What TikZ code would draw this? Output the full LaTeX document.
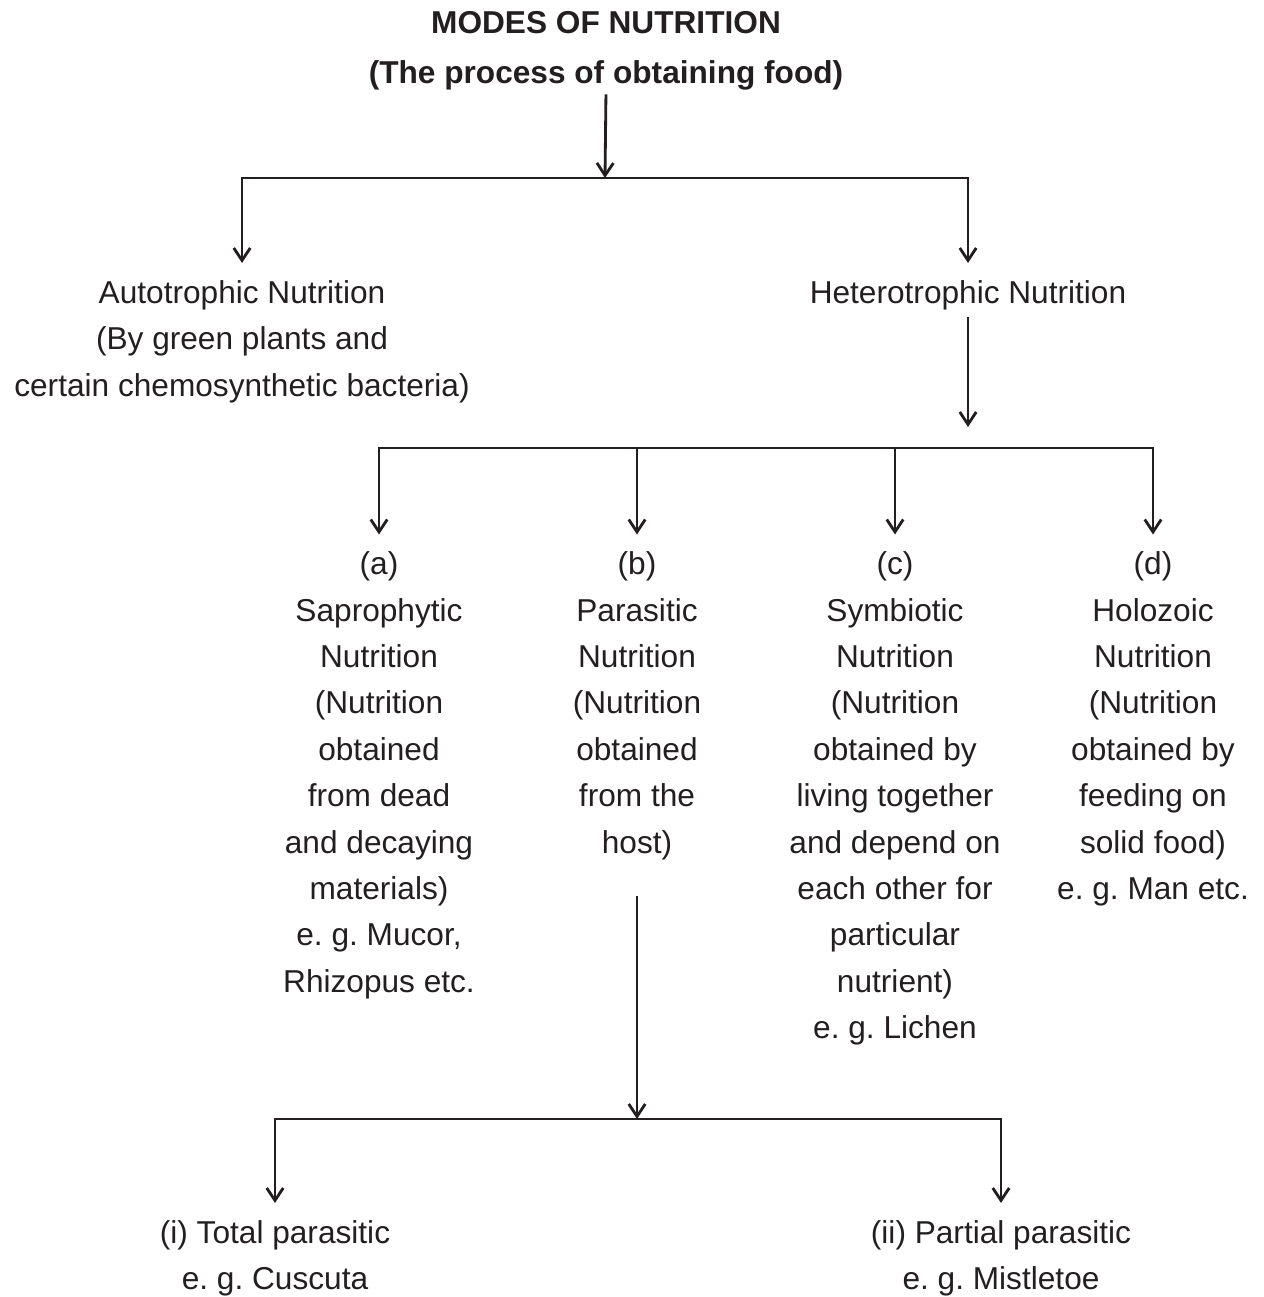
\documentclass[tikz,border=0pt]{standalone}
\usepackage{fontspec}
\setmainfont{Liberation Sans}
\usetikzlibrary{arrows.meta}
\definecolor{ink}{HTML}{231F20}
\frenchspacing

\begin{document}
\begin{tikzpicture}[
  color=ink,
  every node/.style={text=ink,inner sep=0pt},
  heading/.style={anchor=north,align=center,font=\bfseries\fontsize{18}{28.4}\selectfont},
  txt/.style={anchor=north,align=center,font=\fontsize{18}{26.4}\selectfont},
  arr/.style={line width=1.6pt,-{Straight Barb[length=2.5mm,width=3.3mm]}},
  tonode/.style={arr,shorten >=3.4mm}
]
\useasboundingbox (0,0) rectangle (25.28,-25.94);

\node[heading] (modes) at (12.12,-0.22) {MODES OF NUTRITION\\(The process of obtaining food)};
\node[txt] (auto) at (4.84,-5.60) {Autotrophic Nutrition\\(By green plants and\\certain chemosynthetic bacteria)};
\node[txt] (hetero) at (19.36,-5.60) {Heterotrophic Nutrition};
\node[txt] (sapro) at (7.58,-11.03) {(a)\\Saprophytic\\Nutrition\\(Nutrition\\obtained\\from dead\\and decaying\\materials)\\e. g. Mucor,\\Rhizopus etc.};
\node[txt] (para) at (12.74,-11.03) {(b)\\Parasitic\\Nutrition\\(Nutrition\\obtained\\from the\\host)};
\node[txt] (symb) at (17.90,-11.03) {(c)\\Symbiotic\\Nutrition\\(Nutrition\\obtained by\\living together\\and depend on\\each other for\\particular\\nutrient)\\e. g. Lichen};
\node[txt] (holo) at (23.06,-11.03) {(d)\\Holozoic\\Nutrition\\(Nutrition\\obtained by\\feeding on\\solid food)\\e. g. Man etc.};
\node[txt] (total) at (5.50,-24.40) {(i) Total parasitic\\e. g. Cuscuta};
\node[txt] (partial) at (20.02,-24.40) {(ii) Partial parasitic\\e. g. Mistletoe};

\coordinate (split) at (12.10,-3.56);
\coordinate (hsplit) at (19.36,-8.54);
\coordinate (hbar) at (19.36,-8.96);
\coordinate (psplit) at (12.74,-22.38);

\draw[arr,shorten <=0.8mm] (modes.south) -- (split);
\draw[tonode] (split) -| (auto.north);
\draw[tonode] (split) -| (hetero.north);
\draw[arr,shorten <=1.4mm] (hetero.south) -- (hsplit);
\foreach \n in {sapro,para,symb,holo}
  \draw[tonode] (hbar) -| (\n.north);
\draw[arr,shorten <=7.2mm] (para.south) -- (psplit);
\draw[tonode] (psplit) -| (total.north);
\draw[tonode] (psplit) -| (partial.north);
\end{tikzpicture}
\end{document}
